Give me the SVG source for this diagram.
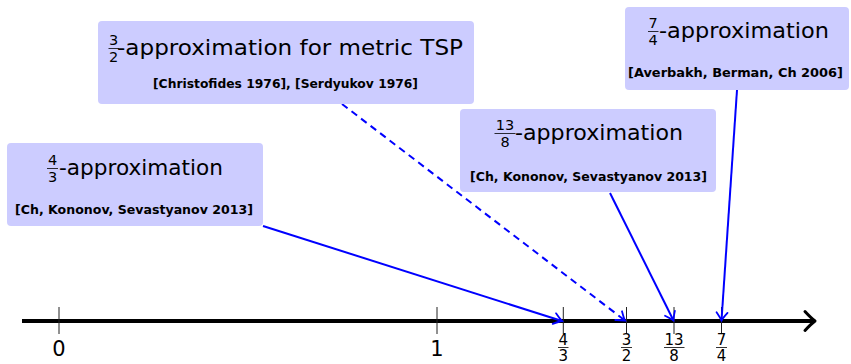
<svg xmlns="http://www.w3.org/2000/svg" width="851" height="364" viewBox="0 0 851 364">
<style>
.box{fill:#ccccff;stroke:none}
.t{font-family:"DejaVu Sans",sans-serif;font-size:22px;fill:#000}
.fr{font-family:"DejaVu Sans",sans-serif;font-size:14.5px;fill:#000;text-anchor:middle}
.c{font-family:"DejaVu Sans",sans-serif;font-size:12px;font-weight:bold;fill:#000}
.bar{stroke:#000;stroke-width:0.8}
.ax{font-family:"DejaVu Sans",sans-serif;font-size:21px;fill:#000;text-anchor:middle}
.axf{font-family:"DejaVu Sans",sans-serif;font-size:15px;fill:#000;text-anchor:middle}
.tick{stroke:#222;stroke-width:1}
.conn{stroke:#0000ff;stroke-width:2;fill:none;marker-end:url(#ah)}
</style>
<defs>
<marker id="ah" markerUnits="userSpaceOnUse" markerWidth="16" markerHeight="16" viewBox="-10 -8 12 16" refX="0" refY="0" orient="auto" overflow="visible">
<path d="M-8,-5.5 Q-2.5,-1.2 0,0 Q-2.5,1.2 -8,5.5" fill="none" stroke="#0000ff" stroke-width="1.8" stroke-linecap="round"/>
</marker>
</defs>
<rect width="851" height="364" fill="#fff"/>

<g id="axis">
<line x1="22" y1="321" x2="813" y2="321" stroke="#000" stroke-width="4"/>
<path d="M805,311.5 Q811,318 815,321 Q811,324 805,330.5" fill="none" stroke="#000" stroke-width="3" stroke-linecap="round" stroke-linejoin="round"/>
<line class="tick" x1="59" y1="307" x2="59" y2="334"/>
<line class="tick" x1="437" y1="307" x2="437" y2="334"/>
<line class="tick" x1="563.3" y1="307" x2="563.3" y2="334"/>
<line class="tick" x1="626.5" y1="307" x2="626.5" y2="334"/>
<line class="tick" x1="674" y1="307" x2="674" y2="334"/>
<line class="tick" x1="721.5" y1="307" x2="721.5" y2="334"/>
<text class="ax" x="59" y="356">0</text>
<text class="ax" x="437" y="356">1</text>
<text class="axf" x="563.3" y="344.5">4</text><line class="bar" x1="558" y1="347.5" x2="568.5" y2="347.5"/><text class="axf" x="563.3" y="361">3</text>
<text class="axf" x="626.5" y="344.5">3</text><line class="bar" x1="621" y1="347.5" x2="632" y2="347.5"/><text class="axf" x="626.5" y="361">2</text>
<text class="axf" x="674" y="344.5">13</text><line class="bar" x1="664" y1="347.5" x2="684.5" y2="347.5"/><text class="axf" x="674" y="361">8</text>
<text class="axf" x="721.5" y="344.5">7</text><line class="bar" x1="716" y1="347.5" x2="727" y2="347.5"/><text class="axf" x="721.5" y="361">4</text>
</g>

<g id="connectors">
<line class="conn" x1="263" y1="226" x2="562" y2="321"/>
<line class="conn" x1="342" y1="104" x2="625" y2="320.5" stroke-dasharray="7 5"/>
<line class="conn" x1="610" y1="193" x2="673.5" y2="320.5"/>
<line class="conn" x1="737" y1="90" x2="721.5" y2="320.5"/>
</g>

<g id="node-43">
<rect class="box" x="7" y="143" width="256" height="83" rx="4"/>
<text class="fr" x="52.5" y="165">4</text><line class="bar" x1="47" y1="168.5" x2="58" y2="168.5"/><text class="fr" x="52.5" y="181.5">3</text>
<text class="t" x="59" y="175" textLength="164" lengthAdjust="spacingAndGlyphs">-approximation</text>
<text class="c" x="15" y="214" textLength="238" lengthAdjust="spacingAndGlyphs">[Ch, Kononov, Sevastyanov 2013]</text>
</g>

<g id="node-32">
<rect class="box" x="98" y="21" width="376" height="83" rx="4"/>
<text class="fr" x="113.5" y="45">3</text><line class="bar" x1="108.5" y1="48.5" x2="119" y2="48.5"/><text class="fr" x="113.5" y="61.5">2</text>
<text class="t" x="117" y="55" textLength="346" lengthAdjust="spacingAndGlyphs">-approximation for metric TSP</text>
<text class="c" x="153" y="88" textLength="265" lengthAdjust="spacingAndGlyphs">[Christofides 1976], [Serdyukov 1976]</text>
</g>

<g id="node-138">
<rect class="box" x="460" y="109" width="256" height="83" rx="4"/>
<text class="fr" x="505" y="130">13</text><line class="bar" x1="494.5" y1="133.5" x2="515.5" y2="133.5"/><text class="fr" x="505" y="146.5">8</text>
<text class="t" x="515" y="140" textLength="168" lengthAdjust="spacingAndGlyphs">-approximation</text>
<text class="c" x="470" y="181" textLength="237" lengthAdjust="spacingAndGlyphs">[Ch, Kononov, Sevastyanov 2013]</text>
</g>

<g id="node-74">
<rect class="box" x="625" y="7" width="224" height="83" rx="4"/>
<text class="fr" x="653" y="28">7</text><line class="bar" x1="648" y1="31.5" x2="658.5" y2="31.5"/><text class="fr" x="653" y="44.5">4</text>
<text class="t" x="659" y="38" textLength="170" lengthAdjust="spacingAndGlyphs">-approximation</text>
<text class="c" x="628" y="77" textLength="215" lengthAdjust="spacingAndGlyphs">[Averbakh, Berman, Ch 2006]</text>
</g>
</svg>
